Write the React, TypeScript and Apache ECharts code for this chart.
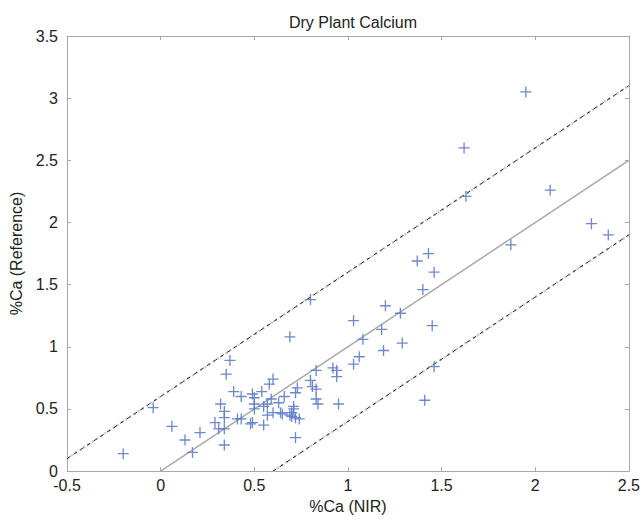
import React, { useEffect, useRef } from "react";
import * as echarts from "echarts";

const titleText = "Dry Plant Calcium";
const xAxisName = "%Ca (NIR)";
const yAxisName = "%Ca (Reference)";

const nirValues = [
  -0.2, -0.04, 0.06, 0.13, 0.17, 0.21, 0.29, 0.31, 0.34, 0.34, 0.32, 0.34, 0.34,
  0.35, 0.37, 0.39, 0.43, 0.41, 0.43, 0.48, 0.49, 0.49, 0.5, 0.5, 0.5, 0.54,
  0.55, 0.55, 0.57, 0.57, 0.58, 0.6, 0.59, 0.6, 0.63, 0.64, 0.65, 0.66, 0.69,
  0.69, 0.7, 0.7, 0.71, 0.71, 0.72, 0.72, 0.72, 0.73, 0.74, 0.8, 0.8, 0.81,
  0.83, 0.83, 0.83, 0.84, 0.92, 0.94, 0.94, 0.95, 1.03, 1.03, 1.06, 1.08, 1.18,
  1.19, 1.2, 1.28, 1.29, 1.37, 1.4, 1.43, 1.46, 1.45, 1.46, 1.41, 1.62, 1.63,
  1.87, 1.95, 2.08, 2.3, 2.39,
];
const refValues = [
  0.14, 0.51, 0.36, 0.25, 0.15, 0.31, 0.39, 0.34, 0.34, 0.21, 0.54, 0.48, 0.43,
  0.78, 0.89, 0.64, 0.6, 0.42, 0.42, 0.38, 0.39, 0.62, 0.59, 0.5, 0.54, 0.64,
  0.37, 0.52, 0.54, 0.45, 0.7, 0.74, 0.58, 0.47, 0.55, 0.47, 0.46, 0.6, 1.08,
  0.45, 0.47, 0.44, 0.5, 0.52, 0.63, 0.43, 0.27, 0.67, 0.42, 0.73, 1.38, 0.68,
  0.66, 0.81, 0.58, 0.54, 0.83, 0.81, 0.76, 0.54, 0.86, 1.21, 0.92, 1.06, 1.14,
  0.97, 1.33, 1.27, 1.03, 1.69, 1.46, 1.75, 1.6, 1.17, 0.84, 0.57, 2.6, 2.21,
  1.82, 3.05, 2.26, 1.99, 1.9,
];

const fitLineX = [0, 2.5];
const fitLineY = [0, 2.5];
const upperBandX = [-0.5, 2.5];
const upperBandY = [0.1, 3.1];
const lowerBandX = [0.6, 2.5];
const lowerBandY = [0, 1.9];

const xMin = -0.5;
const xMax = 2.5;
const yMin = 0;
const yMax = 3.5;
const tickStep = 0.5;

const plusSymbol =
  "path://M-0.6,-5 H0.6 V-0.6 H5 V0.6 H0.6 V5 H-0.6 V0.6 H-5 V-0.6 H-0.6 Z";

const pairs = (xs: number[], ys: number[]) => xs.map((x, i) => [x, ys[i]]);

export default function App() {
  const ref = useRef<HTMLDivElement>(null);

  useEffect(() => {
    if (!ref.current) return;
    const chart = echarts.init(ref.current, undefined, { renderer: "svg" });
    const font = "Liberation Sans, Arial, sans-serif";
    const axisColor = "#a8a8a8";
    const baseAxis = {
      interval: tickStep,
      axisLine: { show: true, onZero: false, lineStyle: { color: axisColor, width: 1 } },
      axisTick: { show: true, inside: true, length: 4, lineStyle: { color: axisColor } },
      splitLine: { show: false },
    };
    const option: any = {
      animation: false,
      backgroundColor: "#ffffff",
      title: {
        text: titleText,
        left: 348,
        top: 9,
        textAlign: "center",
        textStyle: { fontFamily: font, fontSize: 16, fontWeight: "normal", color: "#222" },
      },
      grid: { left: 67, right: 14, top: 36, bottom: 47, containLabel: false },
      xAxis: [
        {
          ...baseAxis,
          type: "value",
          min: xMin,
          max: xMax,
          position: "bottom",
          name: xAxisName,
          nameLocation: "middle",
          nameGap: 25,
          nameTextStyle: { fontFamily: font, fontSize: 16, color: "#222" },
          axisLabel: { fontFamily: font, fontSize: 16, color: "#222", margin: 6 },
        },
        {
          ...baseAxis,
          type: "value",
          min: xMin,
          max: xMax,
          position: "top",
          axisLabel: { show: false },
        },
      ],
      yAxis: [
        {
          ...baseAxis,
          type: "value",
          min: yMin,
          max: yMax,
          position: "left",
          name: yAxisName,
          nameLocation: "middle",
          nameGap: 38,
          nameTextStyle: { fontFamily: font, fontSize: 16, color: "#222" },
          axisLabel: { fontFamily: font, fontSize: 16, color: "#222", margin: 9 },
        },
        {
          ...baseAxis,
          type: "value",
          min: yMin,
          max: yMax,
          position: "right",
          axisLabel: { show: false },
        },
      ],
      series: [
        {
          type: "line",
          data: pairs(fitLineX, fitLineY),
          symbol: "none",
          lineStyle: { color: "#a8a8a8", width: 1.5 },
          z: 2,
        },
        {
          type: "line",
          data: pairs(upperBandX, upperBandY),
          symbol: "none",
          lineStyle: { color: "#cccccc", width: 2.5, type: [2, 3] },
          z: 2,
        },
        {
          type: "line",
          data: pairs(upperBandX, upperBandY),
          symbol: "none",
          lineStyle: { color: "#222", width: 1, type: [4, 4] },
          z: 3,
        },
        {
          type: "line",
          data: pairs(lowerBandX, lowerBandY),
          symbol: "none",
          lineStyle: { color: "#cccccc", width: 2.5, type: [2, 3] },
          z: 2,
        },
        {
          type: "line",
          data: pairs(lowerBandX, lowerBandY),
          symbol: "none",
          lineStyle: { color: "#222", width: 1, type: [4, 4] },
          z: 3,
        },
        {
          type: "scatter",
          data: pairs(nirValues, refValues),
          symbol: plusSymbol,
          symbolSize: 11,
          itemStyle: { color: "#5c7cc8", opacity: 0.9 },
          z: 4,
        },
      ],
    };
    chart.setOption(option);
    return () => chart.dispose();
  }, []);

  return (
    <div
      ref={ref}
      style={{ position: "fixed", left: 0, top: 0, width: 643, height: 519, background: "#fff" }}
    />
  );
}
